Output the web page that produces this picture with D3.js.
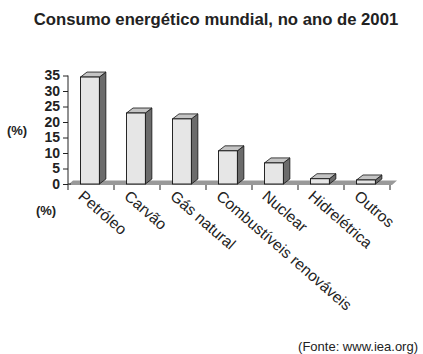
<!DOCTYPE html>
<html>
<head>
<meta charset="utf-8">
<script src="https://cdn.jsdelivr.net/npm/d3@7"></script>
<style>
  body { margin: 0; background: #fff; }
  svg { display: block; font-family: "Liberation Sans", Arial, sans-serif; }
</style>
</head>
<body>
<div id="chart"></div>
<script>
// data
const categories = ["Petróleo", "Carvão", "Gás natural", "Combustíveis renováveis", "Nuclear", "Hidrelétrica", "Outros"];
const values = [34.5, 22.9, 21.0, 10.7, 6.8, 1.7, 1.3];
const yTicks = [0, 5, 10, 15, 20, 25, 30, 35];
const title = "Consumo energético mundial, no ano de 2001";
const source = "(Fonte:  www.iea.org)";

const width = 423, height = 354;
const svg = d3.select("#chart").append("svg")
    .attr("width", width)
    .attr("height", height);

const x = d3.scaleBand()
    .domain(categories)
    .range([68, 390]);
const y = d3.scaleLinear()
    .domain([0, 35])
    .range([184, 75.5]);

const depth = {dx: 6.5, dy: -5};

svg.append("text")
    .attr("x", 216)
    .attr("y", 25)
    .attr("text-anchor", "middle")
    .attr("font-size", 16.7)
    .attr("font-weight", "bold")
    .attr("fill", "#222")
    .text(title);

// floor
const fl = x.range();
svg.append("polygon")
    .attr("points", [
	[fl[0], y(0) + 1], [fl[1] + 2, y(0) + 1],
	[fl[1] + 7, y(0) - 3.5], [fl[0] + 5, y(0) - 3.5]
    ].map(p => p.join(",")).join(" "))
    .attr("fill", "#999");

// bars
const barW = x.bandwidth() * 0.41;
const bars = svg.append("g").selectAll("g")
    .data(categories.map((c, i) => ({name: c, value: values[i]})))
    .join("g");

bars.append("polygon") // side
    .attr("points", d => {
	const x1 = x(d.name) + 12.5 + barW;
	return [[x1, y(d.value)], [x1 + depth.dx, y(d.value) + depth.dy],
		[x1 + depth.dx, y(0) + depth.dy], [x1, y(0)]]
	    .map(p => p.join(",")).join(" ");
    })
    .attr("fill", "#6b6b6b")
    .attr("stroke", "#111")
    .attr("stroke-width", 0.8)
    .attr("stroke-linejoin", "round");

bars.append("polygon") // top
    .attr("points", d => {
	const x0 = x(d.name) + 12.5;
	return [[x0, y(d.value)], [x0 + depth.dx, y(d.value) + depth.dy],
		[x0 + barW + depth.dx, y(d.value) + depth.dy], [x0 + barW, y(d.value)]]
	    .map(p => p.join(",")).join(" ");
    })
    .attr("fill", "#c4c4c4")
    .attr("stroke", "#111")
    .attr("stroke-width", 0.8)
    .attr("stroke-linejoin", "round");

bars.append("rect") // front
    .attr("x", d => x(d.name) + 12.5)
    .attr("y", d => y(d.value))
    .attr("width", barW)
    .attr("height", d => y(0) - y(d.value))
    .attr("fill", "#e6e6e6")
    .attr("stroke", "#111")
    .attr("stroke-width", 0.9);

// y axis
const yAxis = svg.append("g")
    .attr("transform", `translate(${fl[0]},0)`)
    .call(d3.axisLeft(y).tickValues(yTicks).tickSize(5).tickSizeOuter(0).tickPadding(3));
yAxis.select(".domain").remove();
yAxis.selectAll("line").attr("stroke", "#222");
yAxis.selectAll("text")
    .attr("font-size", 14)
    .attr("font-weight", "bold")
    .attr("fill", "#222")
    .attr("font-family", "Liberation Sans, Arial, sans-serif");
yAxis.append("line")
    .attr("x1", 0).attr("x2", 0)
    .attr("y1", y(35)).attr("y2", y(0) + 6)
    .attr("stroke", "#222");
yAxis.append("line")
    .attr("x1", 0).attr("x2", 3)
    .attr("y1", y(0)).attr("y2", y(0))
    .attr("stroke", "#222");

// x axis tick marks at category boundaries
const bounds = categories.map(c => x(c)).concat([fl[1]]);
svg.append("g").selectAll("line")
    .data(bounds.slice(1))
    .join("line")
    .attr("x1", d => d).attr("x2", d => d)
    .attr("y1", y(0) + 1).attr("y2", y(0) + 6)
    .attr("stroke", "#222");

// category labels
svg.append("g").selectAll("text")
    .data(categories)
    .join("text")
    .attr("transform", d => `translate(${x(d) + x.bandwidth() / 2 - 6},${y(0) + 5}) rotate(41)`)
    .attr("dy", "0.75em")
    .attr("font-size", 15.5)
    .attr("fill", "#222")
    .text(d => d);

svg.append("text")
    .attr("x", 17).attr("y", 135)
    .attr("text-anchor", "middle")
    .attr("font-size", 13)
    .attr("font-weight", "bold")
    .attr("fill", "#222")
    .text("(%)");
svg.append("text")
    .attr("x", 46).attr("y", 215)
    .attr("text-anchor", "middle")
    .attr("font-size", 13)
    .attr("font-weight", "bold")
    .attr("fill", "#222")
    .text("(%)");

svg.append("text")
    .attr("x", 418).attr("y", 351)
    .attr("text-anchor", "end")
    .attr("font-size", 13)
    .attr("fill", "#222")
    .text(source);
</script>
</body>
</html>
